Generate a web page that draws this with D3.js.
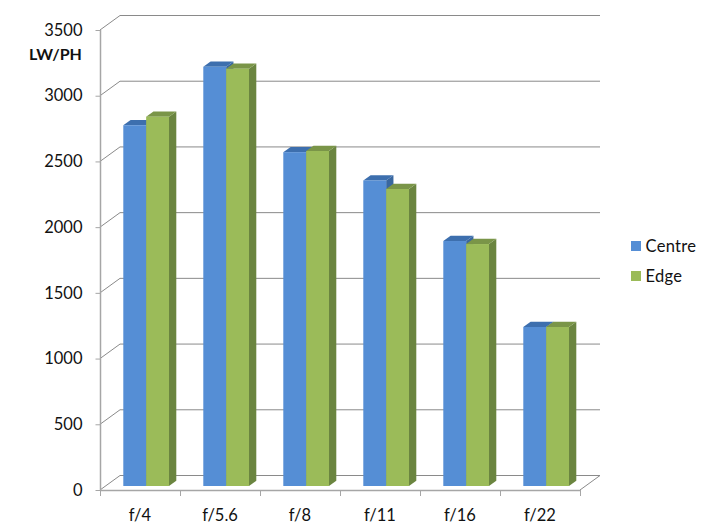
<!DOCTYPE html>
<html><head><meta charset="utf-8">
<script src="https://d3js.org/d3.v7.min.js"></script>
<style>html,body{margin:0;background:#fff}svg{display:block}text{font-family:Lato,"Open Sans",sans-serif;fill:#111}</style>
</head><body><div id="c"></div>
<script>
const categories=["f/4","f/5.6","f/8","f/11","f/16","f/22"];
const seriesNames=["Centre","Edge"];
const centre=[2745,3190,2540,2325,1864,1210];
const edge=[2810,3175,2549,2260,1841,1210];
const yTicks=[0,500,1000,1500,2000,2500,3000,3500];
const colors=["#558ed5","#9bbb59"];
const tops=["#3d6fae","#7a9548"];
const sides=["#39679f","#6b8540"];

const W=702,H=527;
const svg=d3.select("#c").append("svg").attr("width",W).attr("height",H);
const y=d3.scaleLinear().domain([0,3500]).range([490,30]);
const x=d3.scaleBand().domain(categories).range([100,580]);
const inner=d3.scaleBand().domain(seriesNames).range([23.3,69]);
const wall={dx:20,dy:-14.5}, bar={dx:0,dy:-4,depthX:7.3,depthY:-5.2};
const grid="#8a8a8a", axisC="#a6a6a6";

svg.append("g").selectAll("line").data(yTicks).join("line")
 .attr("x1",100+wall.dx).attr("x2",600)
 .attr("y1",d=>y(d)+wall.dy).attr("y2",d=>y(d)+wall.dy)
 .attr("stroke",grid).attr("stroke-width",1);
svg.append("g").selectAll("line").data(yTicks).join("line")
 .attr("x1",100).attr("x2",100+wall.dx)
 .attr("y1",d=>y(d)).attr("y2",d=>y(d)+wall.dy)
 .attr("stroke",grid).attr("stroke-width",1);
svg.append("line").attr("x1",580).attr("y1",y(0)).attr("x2",600).attr("y2",y(0)+wall.dy)
 .attr("stroke",grid);

const yAxis=d3.axisLeft(y).tickValues(yTicks).tickSize(5).tickPadding(13).tickFormat(d3.format("d"));
const gy=svg.append("g").attr("transform","translate(100.5,0)").call(yAxis);
const xAxis=d3.axisBottom(x).tickSize(0).tickPadding(19);
const gx=svg.append("g").attr("transform","translate(0,490.5)").call(xAxis);
[gy,gx].forEach(g=>{g.select(".domain").attr("stroke",axisC).attr("stroke-width",1.5);
 g.selectAll(".tick line").attr("stroke",axisC);
 g.selectAll("text").style("font-size","16.5px").style("font-family","Lato,sans-serif").attr("fill","#111");});
gx.select(".domain").attr("d","M100,0H580");
gy.select(".domain").attr("d","M0,"+y(3500)+"V"+y(0));
svg.append("g").selectAll("line").data(d3.range(categories.length+1)).join("line")
 .attr("x1",i=>100+i*x.step()+.5).attr("x2",i=>100+i*x.step()+.5).attr("y1",490).attr("y2",496)
 .attr("stroke",axisC);

const series=[centre,edge];
const groups=svg.append("g");
series.forEach((vals,si)=>{
 const g=groups.append("g");
 const name=seriesNames[si], w=inner.bandwidth();
 const data=categories.map((c,i)=>({c,v:vals[i]}));
 const X=d=>x(d.c)+inner(name), T=d=>y(d.v)+bar.dy, B=y(0)+bar.dy;
 g.selectAll(".side").data(data).join("path").attr("fill",sides[si])
  .attr("d",d=>`M${X(d)+w},${T(d)}l${bar.depthX},${bar.depthY}V${B+bar.depthY}l${-bar.depthX},${-bar.depthY}Z`);
 g.selectAll(".top").data(data).join("path").attr("fill",tops[si])
  .attr("d",d=>`M${X(d)},${T(d)}l${bar.depthX},${bar.depthY}h${w}l${-bar.depthX},${-bar.depthY}Z`);
 g.selectAll(".face").data(data).join("rect").attr("fill",colors[si])
  .attr("x",X).attr("y",T).attr("width",w).attr("height",d=>B-T(d));
});

svg.append("text").attr("x",29).attr("y",60).attr("font-weight",700).style("font-size","16px").text("LW/PH");

const lg=svg.append("g").selectAll("g").data(seriesNames).join("g")
 .attr("transform",(d,i)=>`translate(631,${241+i*30})`);
lg.append("rect").attr("width",10).attr("height",10).attr("fill",(d,i)=>colors[i]);
lg.append("text").attr("x",14.5).attr("y",11).style("font-size","16.5px").style("letter-spacing","0.3px").text(d=>d);
</script></body></html>
